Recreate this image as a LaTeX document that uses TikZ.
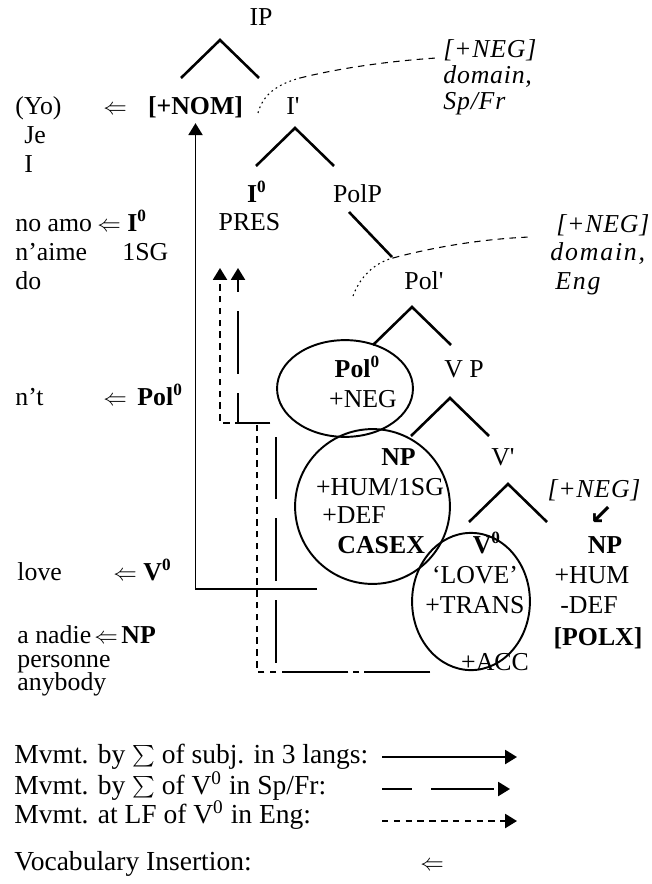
\documentclass[tikz,border=0pt]{standalone}
\usepackage{fontspec}
\setmainfont{Liberation Serif}
\newfontfamily\arrowfont{DejaVu Sans}
\newfontfamily\spit[LetterSpace=7]{Liberation Serif}
\newfontfamily\spitlow[LetterSpace=3]{Liberation Serif}
\usetikzlibrary{arrows.meta}
\tikzset{
  wd/.style    ={anchor=base west, inner xsep=0pt, inner ysep=2pt},
  lab/.style   ={anchor=base, inner xsep=0pt, inner ysep=2pt},
  keywd/.style ={wd, font=\fontsize{12.8}{14}\selectfont},
  branch/.style={line width=1.2pt},
  ring/.style  ={draw, line width=0.9pt},
  % the three kinds of movement, as in the key at the bottom
  subjmv/.style={line width=0.9pt, -{Triangle[width=6.5pt,length=5.5pt]}},
  spfrmv/.style={subjmv, dash pattern=on 29pt off 9pt},
  engmv/.style ={subjmv, dash pattern=on 3pt off 2.5pt},
  keyspfr/.style={spfrmv, dash phase=15pt},
  negdot/.style={line width=0.5pt, dash pattern=on 0.8pt off 1.6pt},
  negdash/.style={line width=0.5pt, dash pattern=on 3pt off 2.5pt},
}
\newcommand{\fork}[2]{\draw[branch] (#1,#2) ++(-39,38) -- (#1,#2) -- ++(39,38);}
\newcommand{\pr}{\textquotesingle}
\newcommand{\ins}{{\fontsize{11}{11}\selectfont$\Leftarrow$}}

\begin{document}
\begin{tikzpicture}[x=0.465pt,y=-0.465pt,font=\fontsize{12}{13}\selectfont]
\useasboundingbox (0,0) rectangle (652,884);
% tree
\node[lab] (ip) at (261,26) {IP};
\fork{220}{40}
\node[lab] (nom) at (195.5,115) {\textbf{[+NOM]}};
\node[lab] (ibar) at (293,115) {I\pr};
\fork{295}{128}
\node[lab] (izero) at (257,202) {\textbf{I\textsuperscript{0}}};
\node[lab] (polp) at (357.5,202) {PolP};
\node[lab] (pres) at (249.5,230) {PRES};
\draw[branch] (349,212) -- ++(43,45);
\node[lab] (polbar) at (424,289) {Pol\pr};
\fork{412}{307}
\node[lab] (polzero) at (357.5,377) {\textbf{Pol\textsuperscript{0}}};
\node[lab] (neg) at (363,407) {+NEG};
\node[lab] (vp) at (464,377) {V P};
\fork{450}{398}
\node[lab] (npsubj) at (398.5,465) {\textbf{NP}};
\node[lab] (vbar) at (503,465) {V\pr};
\node[lab] (hum1) at (380,495) {+HUM/1SG};
\node[wd] (def1) at (322,523) {+DEF};
\node[wd] (casex) at (337,553) {\textbf{CASEX}};
\fork{508}{484}
\node[lab] (vzero) at (487,553) {\textbf{V\textsuperscript{0}}};
\node[lab] (lovesem) at (475,583) {‘LOVE’};
\node[lab] (trans) at (475,613) {+TRANS};
\node[lab] (acc) at (495,670) {+ACC};
\node[lab] (negobj) at (594,497) {\spitlow\itshape [+NEG]};
\node[lab] (negarr) at (601,524) {\arrowfont\bfseries\fontsize{13}{13}\selectfont ↙};
\node[lab] (npobj) at (605,553) {\textbf{NP}};
\node[lab] (hum2) at (592,583) {+HUM};
\node[lab] (def2) at (589,613) {-DEF};
\node[lab] (polx) at (598,645) {\textbf{[POLX]}};

\draw[ring] (345,388.5) ellipse [x radius=31.6pt, y radius=22.5pt];
\draw[ring] (372.5,506.5) circle [radius=36pt];
\draw[ring] (471,601.5) ellipse [x radius=27.4pt, y radius=31.9pt];

% [+NEG] domains
\node[wd] (negtop) at (443,58) {\spitlow\itshape [+NEG]};
\node[wd] (domtop) at (443,84) {\spitlow\itshape domain,};
\node[wd] (spfr) at (443,110) {\spitlow\itshape Sp/Fr};
\node[wd] (negmid) at (556,232) {\spitlow\itshape [+NEG]};
\node[wd] (dommid) at (550,260) {\spit\itshape domain,};
\node[wd] (eng) at (555,289) {\spit\itshape Eng};
\coordinate (nomdot) at (258,113);
\coordinate (nomdash) at (300,78);
\coordinate (poldot) at (353,296);
\coordinate (poldash) at (393,258);
\coordinate (engend) at (530,237);
\draw[negdot] (nomdot) .. controls (263,94) and (278,84) .. (nomdash);
\draw[negdash] (nomdash) .. controls (340,68) and (390,61) .. ([xshift=-3pt]negtop.base west);
\draw[negdot] (poldot) .. controls (360,277) and (374,263) .. (poldash);
\draw[negdash] (poldash) .. controls (430,248) and (480,239) .. (engend);

% vocabulary
\foreach \n/\x/\y/\t in {yo/15/115/(Yo), je/24/143/Je, iwd/24/172/I,
   noamo/15/231/no amo, naime/15/260/n’aime, sg/122/260/1SG, dowd/15/289/do,
   nt/15/405/n’t, lovewd/17/580/love, nadie/17/643/a nadie,
   personne/17/667/personne, anybody/17/690/anybody}
  {\node[wd] (\n) at (\x,\y) {\t};}
\foreach \n/\x/\y/\hx/\h in {nomins/103/115/0/{},
   iins/97/231/127/{I\textsuperscript{0}}, polins/103/405/137/{Pol\textsuperscript{0}},
   vins/113/580/143/{V\textsuperscript{0}}, npins/94/643/121/{NP}}
  {\node[wd] (\n) at (\x,\y) {\ins};
   \node[wd] (\n h) at (\hx,\y) {\textbf{\h}};}

% movement
\coordinate (subjfoot) at (317,589);
\coordinate (vfoot) at (430,672);
\coordinate (spfrtip) at (238,268);
\coordinate (engtip) at (220,268);
\draw[subjmv] (subjfoot) -| (nom.south);
\draw[spfrmv] (vfoot) -| (276,423) -| (spfrtip);
\draw[engmv] (vfoot) -| (257,423) -| (engtip);

% key
\node[keywd] (leg1) at (14,763) {Mvmt. by $\sum$ of subj. in 3 langs:};
\node[keywd] (leg2) at (14,794) {Mvmt. by $\sum$ of V\textsuperscript{0} in Sp/Fr:};
\node[keywd] (leg3) at (14,823) {Mvmt. at LF of V\textsuperscript{0} in Eng:};
\foreach \k/\y/\e/\s in {1/757/517/subjmv, 2/789/510/keyspfr, 3/821/517/engmv}
  {\coordinate (ka\k) at (382,\y);
   \coordinate (kb\k) at (\e,\y);
   \draw[\s] (ka\k) -- (kb\k);}
\node[keywd] (legvoc) at (14,870) {Vocabulary Insertion:};
\node[keywd] (legins) at (420,870) {\ins};
\end{tikzpicture}
\end{document}
